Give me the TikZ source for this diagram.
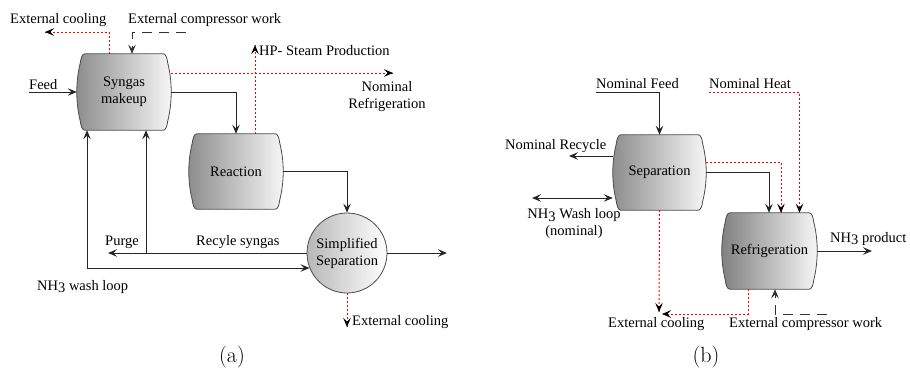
\documentclass[tikz,border=0pt]{standalone}
\usepackage{fontspec}
\setmainfont{Liberation Serif}
\usetikzlibrary{arrows.meta,backgrounds,calc,decorations.markings}

\tikzset{
  lbl/.style={font=\fontsize{14.5}{17}\selectfont, inner sep=0pt},
  boxnode/.style={lbl, align=center, inner sep=0pt},
  barrelline/.style={draw=black!70, line width=0.8pt},
  tipshape/.tip={Stealth[length=9pt,width=7.5pt,inset=3.5pt]},
  arr/.style={-tipshape},
  flow/.style={arr, draw=black!85, line width=1pt},
  rdot/.style={draw=red, line width=1pt, dash pattern=on 2pt off 2pt,
    postaction={decorate, decoration={markings,
      mark=at position 1 with {\arrow[black, solid]{tipshape}}}}},
  dashw/.style={arr, draw=black!80, line width=1pt, dash pattern=on 10pt off 7pt},
  captxt/.style={font=\fontfamily{lmr}\fontsize{22}{26}\selectfont, inner sep=0pt}
}

% barrel-shaped unit outline drawn behind a named node
\newcommand\barrel[2]{%
  \begin{scope}[on background layer]
  \path[barrelline, left color=#2, right color=white!97!black]
   ([xshift=8pt]#1.north west) -- ([xshift=-8pt]#1.north east)
   .. controls ([xshift=-5.5pt]#1.north east) and ([xshift=-4pt,yshift=-4.25pt]#1.north east) .. ([xshift=-3.5pt,yshift=-9pt]#1.north east)
   .. controls ([xshift=1.2pt,yshift=-28pt]#1.north east) and ([xshift=1.2pt,yshift=28pt]#1.south east) .. ([xshift=-3.5pt,yshift=9pt]#1.south east)
   .. controls ([xshift=-4pt,yshift=4.25pt]#1.south east) and ([xshift=-5.5pt]#1.south east) .. ([xshift=-8pt]#1.south east)
   -- ([xshift=8pt]#1.south west)
   .. controls ([xshift=5.5pt]#1.south west) and ([xshift=4pt,yshift=4.25pt]#1.south west) .. ([xshift=3.5pt,yshift=9pt]#1.south west)
   .. controls ([xshift=-1.2pt,yshift=28pt]#1.south west) and ([xshift=-1.2pt,yshift=-28pt]#1.north west) .. ([xshift=3.5pt,yshift=-9pt]#1.north west)
   .. controls ([xshift=4pt,yshift=-4.25pt]#1.north west) and ([xshift=5.5pt]#1.north west) .. cycle;
  \end{scope}}

\newcommand\nhthree{NH\lower2.5pt\hbox{3}}

\begin{document}
\begin{tikzpicture}[x=1pt,y=-1pt]
\useasboundingbox (0,0) rectangle (910,375);

%% ---------------- (a) ----------------
\node[boxnode, minimum width=94pt, minimum height=76pt] (syn) at (124,92) {Syngas\\makeup};
\barrel{syn}{black!45}
\node[boxnode, minimum width=94pt, minimum height=75pt] (reac) at (236,171.5) {Reaction};
\barrel{reac}{black!45}
\node[boxnode, circle, draw=black!70, line width=0.8pt, minimum size=80pt,
      left color=black!28, right color=white] (simp) at (347,253) {Simplified\\Separation};

\node[lbl, anchor=base west] (tEcA) at (10,23.5) {External cooling};
\node[lbl, anchor=base west] (tCwA) at (128,23.5) {External compressor work};
\node[lbl, anchor=base west] (tFeed) at (29,89.5) {Feed};
\node[lbl, anchor=base west] (tHP) at (259,55) {HP- Steam Production};
\node[lbl, align=center] (tNR) at (387,97) {Nominal\\Refrigeration};
\node[lbl, anchor=base west] (tPurge) at (105,245) {Purge};
\node[lbl, anchor=base west] (tRec) at (196,245) {Recyle syngas};
\node[lbl, anchor=base west] (tWash) at (37,290) {\nhthree{} wash loop};
\node[lbl, anchor=base west] (tEcB) at (352,325) {External cooling};
\node[captxt] (capA) at (232,357) {(a)};

\coordinate (feedin) at (29,92);
\coordinate (ecA) at (45,32);
\coordinate (cwA) at (186,32);
\coordinate (nomref) at (393,73);
\coordinate (hp) at (255,45);
\coordinate (prodA) at (447,253);
\coordinate (purge) at (108,253);
\coordinate (rj) at (146,253);
\coordinate (wl) at (87,268);
\coordinate (ecB) at (347,327);

\draw[flow] (feedin) -- (syn.west);
\draw[rdot] ([xshift=-15pt]syn.north) |- (ecA);
\draw[dashw] (cwA) -| ([xshift=8pt]syn.north);
\draw[rdot] ([yshift=19pt]syn.east) -- (nomref);
\draw[flow] (syn.east) -| (reac.north);
\draw[rdot] (reac.north -| hp) -- (hp);
\draw[flow] (reac.east) -| (simp.north);
\draw[flow] (simp.east) -- (prodA);
\draw[flow] (simp.west) -- (purge);
\draw[flow] (rj) -- (rj |- syn.south);
\draw[flow] (wl) -- (wl |- syn.south);
\draw[flow] (wl) -- (wl -| simp.202);
\draw[rdot] (simp.south) -- (ecB);

%% ---------------- (b) ----------------
\node[boxnode, minimum width=93pt, minimum height=75pt] (sep) at (659.5,172.5) {Separation};
\barrel{sep}{black!45}
\node[boxnode, minimum width=95pt, minimum height=76pt] (ref) at (769.5,251) {Refrigeration};
\barrel{ref}{black!50}

\node[lbl, anchor=base west] (tNF) at (596,88) {Nominal Feed};
\node[lbl, anchor=base west] (tNH) at (709,88) {Nominal Heat};
\node[lbl, anchor=base west] (tNRc) at (505,149) {Nominal Recycle};
\node[lbl, align=center] (tWl) at (574,224) {\nhthree{} Wash loop\\(nominal)};
\node[lbl, anchor=base west] (tProd) at (830,242) {\nhthree{} product};
\node[lbl, anchor=base west] (tEcb) at (608,327) {External cooling};
\node[lbl, anchor=base west] (tCwb) at (729,327) {External compressor work};
\node[captxt] (capB) at (706,357) {(b)};

\coordinate (nf) at (596,92);
\coordinate (nh) at (709,92);
\coordinate (nr) at (569,156);
\coordinate (wlb) at (532,198);
\coordinate (np) at (872,251);
\coordinate (ecb) at (659,312);
\coordinate (ecb2) at (662,314);
\coordinate (cwb) at (827,314);

\draw[flow] (nf) -| (sep.north);
\draw[rdot] (nh) -| ([xshift=30pt]ref.north);
\draw[flow] ([yshift=16.5pt]sep.west) -- (nr);
\draw[flow, tipshape-tipshape] (wlb) -- (wlb -| sep.west);
\draw[rdot] ([yshift=10.5pt]sep.east) -| ([xshift=11.5pt]ref.north);
\draw[flow] (sep.east) -| ([xshift=-0.5pt]ref.north);
\draw[flow] (ref.east) -- (np);
\draw[rdot] (sep.south) -- (ecb);
\draw[rdot] ([xshift=-21pt]ref.south) |- (ecb2);
\draw[dashw] (cwb) -| ([xshift=5.5pt]ref.south);
\end{tikzpicture}
\end{document}
